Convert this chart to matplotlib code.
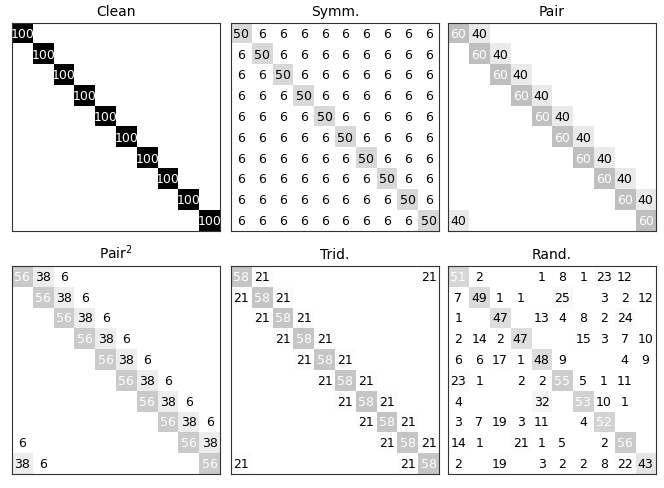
import numpy as np
import matplotlib
matplotlib.use("Agg")
import matplotlib.pyplot as plt
from matplotlib.colors import PowerNorm

# first row of each circulant transition matrix (percent)
clean_row = [100, 0, 0, 0, 0, 0, 0, 0, 0, 0]
symm_row = [50, 6, 6, 6, 6, 6, 6, 6, 6, 6]
pair_row = [60, 40, 0, 0, 0, 0, 0, 0, 0, 0]
pair2_row = [56, 38, 6, 0, 0, 0, 0, 0, 0, 0]
trid_row = [58, 21, 0, 0, 0, 0, 0, 0, 0, 21]

# random noise matrix (percent)
rand_mat = [
    [51, 2, 0, 0, 1, 8, 1, 23, 12, 0],
    [7, 49, 1, 1, 0, 25, 0, 3, 2, 12],
    [1, 0, 47, 0, 13, 4, 8, 2, 24, 0],
    [2, 14, 2, 47, 0, 0, 15, 3, 7, 10],
    [6, 6, 17, 1, 48, 9, 0, 0, 4, 9],
    [23, 1, 0, 2, 2, 55, 5, 1, 11, 0],
    [4, 0, 0, 0, 32, 0, 53, 10, 1, 0],
    [3, 7, 19, 3, 11, 0, 4, 52, 0, 0],
    [14, 1, 0, 21, 1, 5, 0, 2, 56, 0],
    [2, 0, 19, 0, 3, 2, 2, 8, 22, 43],
]

titles = ["Clean", "Symm.", "Pair", "Pair$^2$", "Trid.", "Rand."]


def circulant(row):
    return np.array([np.roll(row, i) for i in range(len(row))])


mats = [circulant(clean_row), circulant(symm_row), circulant(pair_row),
        circulant(pair2_row), circulant(trid_row), np.array(rand_mat)]

fig = plt.figure(figsize=(6.64, 4.89), dpi=100)
W, H = 664, 489
lefts = [12, 231, 448]
tops = [24, 267]
size = 208

for k, (m, t) in enumerate(zip(mats, titles)):
    r, c = divmod(k, 3)
    ax = fig.add_axes([lefts[c] / W, 1 - (tops[r] + size) / H, size / W, size / H])
    ax.imshow(m, cmap="gray_r", norm=PowerNorm(gamma=2.7, vmin=0, vmax=100),
              interpolation="nearest", aspect="auto")
    for i in range(m.shape[0]):
        for j in range(m.shape[1]):
            v = m[i, j]
            if v > 0:
                ax.text(j, i, str(v), ha="center", va="center", fontsize=9,
                        color="white" if v > 50 else "black")
    ax.set_xticks([])
    ax.set_yticks([])
    for s in ax.spines.values():
        s.set_color("#333333")
    ax.set_title(t, fontsize=10)

fig.savefig("out.png", dpi=100)
